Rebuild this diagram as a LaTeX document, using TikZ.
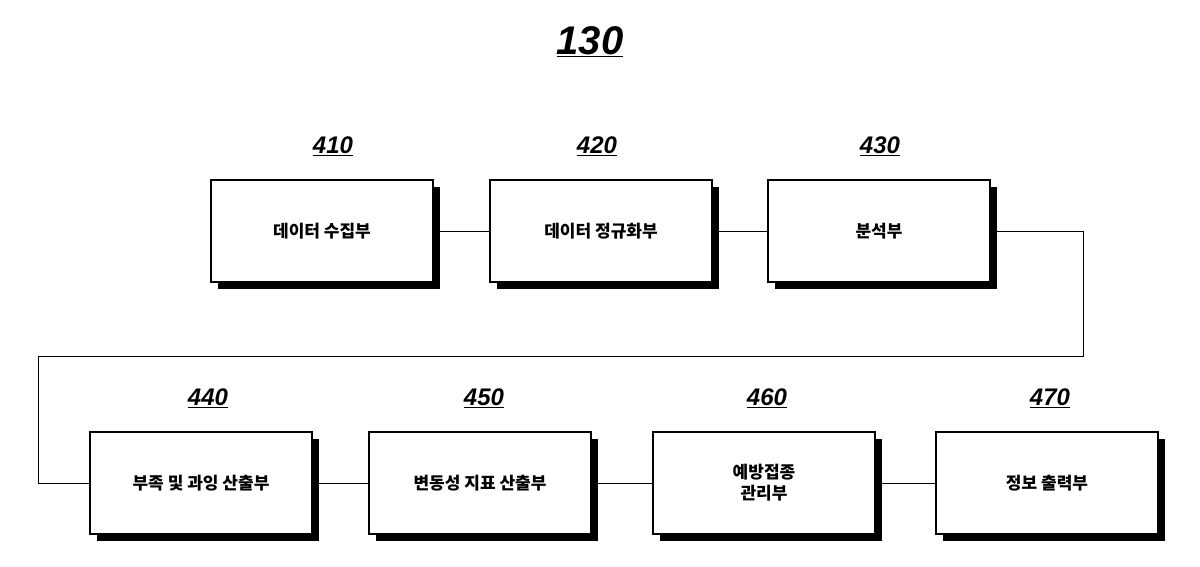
\documentclass[tikz,border=0pt]{standalone}
\usepackage{fontspec}
\newfontfamily\kr{Noto Sans CJK KR}
\newfontfamily\num{Liberation Sans}
\usetikzlibrary{shadows}
\begin{document}
\begin{tikzpicture}[x=1pt,y=-1pt,
box/.style={draw=black,line width=1.6pt,fill=white,minimum width=222pt,minimum height=102pt,
 font=\kr\bfseries\fontsize{17}{21}\selectfont,align=center,
 drop shadow={shadow xshift=7pt,shadow yshift=-7pt,opacity=1,fill=black}},
lab/.style={font=\num\bfseries\itshape\fontsize{24}{26}\selectfont},
con/.style={line width=0.8pt}]
\useasboundingbox (0,0) rectangle (1200,566);
\node[font=\num\bfseries\itshape\fontsize{40}{44}\selectfont] (t) at (590,42) {\underline{130}};
\node[box] (b410) at (322,231) {데이터 수집부};
\node[box] (b420) at (601,231) {데이터 정규화부};
\node[box] (b430) at (879,231) {분석부};
\node[box] (b440) at (201,483) {부족 및 과잉 산출부};
\node[box] (b450) at (480,483) {변동성 지표 산출부};
\node[box] (b460) at (764,483) {예방접종\\관리부};
\node[box] (b470) at (1047,483) {정보 출력부};
\node[lab] (l410) at (333,146) {\underline{410}};
\node[lab] (l420) at (597,146) {\underline{420}};
\node[lab] (l430) at (880,146) {\underline{430}};
\node[lab] (l440) at (208,398) {\underline{440}};
\node[lab] (l450) at (484,398) {\underline{450}};
\node[lab] (l460) at (767,398) {\underline{460}};
\node[lab] (l470) at (1050,398) {\underline{470}};
\draw[con] (b410.east) -- (b420.west);
\draw[con] (b420.east) -- (b430.west);
\draw[con] (b440.east) -- (b450.west);
\draw[con] (b450.east) -- (b460.west);
\draw[con] (b460.east) -- (b470.west);
\coordinate (c1) at (1083,231);
\coordinate (c2) at (1083,356);
\coordinate (c3) at (38,356);
\coordinate (c4) at (38,483);
\draw[con] (b430.east) -- (c1) -- (c2) -- (c3) -- (c4) -- (b440.west);
\end{tikzpicture}
\end{document}
